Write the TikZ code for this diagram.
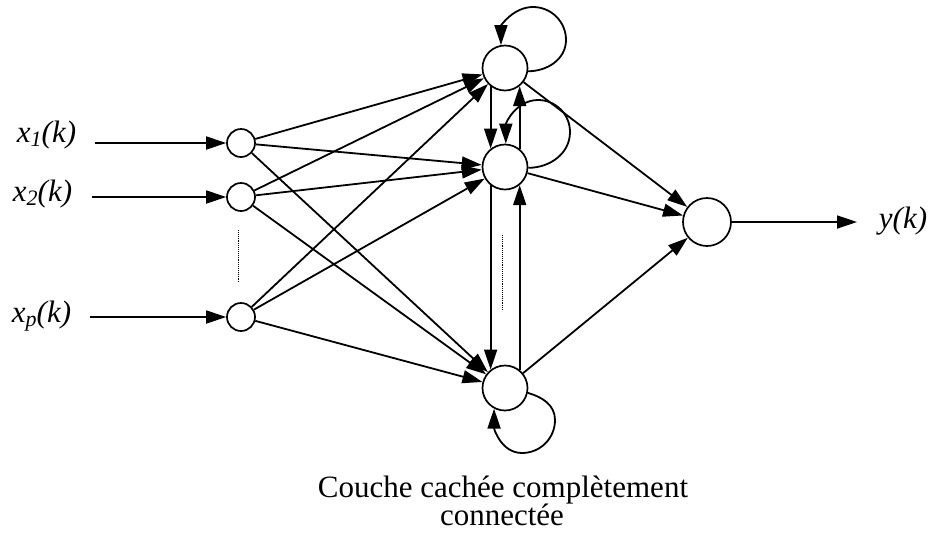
\documentclass[tikz,border=0pt]{standalone}
\usepackage{fontspec}
\setmainfont{Liberation Serif}
\usetikzlibrary{arrows.meta}
% lowered index for the input labels
\newcommand\lowidx[1]{\raisebox{-0.35ex}{\fontsize{22}{22}\selectfont #1}}
\begin{document}
\begin{tikzpicture}[x=1pt,y=1pt,line width=1.8pt,
  unit/.style={circle,draw,line width=1.7pt,inner sep=0pt},
  innode/.style={unit,minimum size=28pt},
  hidnode/.style={unit,minimum size=45pt},
  outnode/.style={unit,minimum size=48pt},
  arr/.style={-{Triangle[length=20pt,width=13pt]}},
  lab/.style={font=\fontsize{31}{31}\selectfont\itshape,inner sep=0pt},
  caption/.style={font=\fontsize{31}{31}\selectfont,inner sep=0pt},
  dots/.style={line width=0.9pt,densely dotted}]
\useasboundingbox (0,0) rectangle (928,-539);

% input layer
\node[innode] (i1) at (241,-143) {};
\node[innode] (i2) at (241,-197) {};
\node[innode] (ip) at (241,-317) {};
\draw[dots] (238,-230) -- (238,-282);

% fully connected hidden layer
\node[hidnode] (h1) at (505,-68) {};
\node[hidnode] (h2) at (505,-167) {};
\node[hidnode] (h3) at (505,-388) {};
\draw[dots] (502,-235) -- (502,-310);

% output unit
\node[outnode] (o) at (707,-222) {};

% labels
\node[lab,anchor=base east] (lx1) at (77,-142) {x\lowidx{1}(k)};
\node[lab,anchor=base east] (lx2) at (73,-201) {x\lowidx{2}(k)};
\node[lab,anchor=base east] (lxp) at (72,-322) {x\lowidx{p}(k)};
\node[lab,anchor=base west] (ly) at (878,-228) {y(k)};

% external inputs and output
\draw[arr,shorten <=18pt] (lx1.east |- i1) -- (i1);
\draw[arr,shorten <=19pt] (lx2.east |- i2) -- (i2);
\draw[arr,shorten <=18pt] (lxp.east |- ip) -- (ip);
\draw[arr,shorten >=21pt] (o) -- (ly.west |- o);

% input -> hidden
\foreach \i in {i1,i2,ip}
  \foreach \h in {h1,h2,h3}
    \draw[arr] (\i) -- (\h);

% hidden -> output
\foreach \h in {h1,h2,h3}
  \draw[arr] (\h) -- (o);

% lateral links inside the hidden layer
\draw[arr] (h1.-128.5) -- (h2.128.5);
\draw[arr] (h2.51.5) -- (h1.-51.5);
\draw[arr] (h2.-128.5) -- (h3.128.5);
\draw[arr] (h3.51.5) -- (h2.-51.5);

% self loops
\draw[arr] (h1.-8) to[out=0,in=-90] (566,-40) to[out=90,in=0] (533,-7)
  to[out=180,in=90] (h1.100);
\draw[arr] (h2.-2) to[out=0,in=-90] (570,-132) to[out=90,in=0] (538,-100)
  to[out=180,in=90] (h2.88);
\draw[arr] (h3.-12) to[out=-16,in=90] (555,-420) to[out=-90,in=0] (522,-453)
  to[out=180,in=-90] (h3.-118);

% caption
\node[caption,anchor=base] (c1) at (503,-497) {Couche cachée complètement};
\node[caption,anchor=base] (c2) at (502,-525) {connectée};
\end{tikzpicture}
\end{document}
